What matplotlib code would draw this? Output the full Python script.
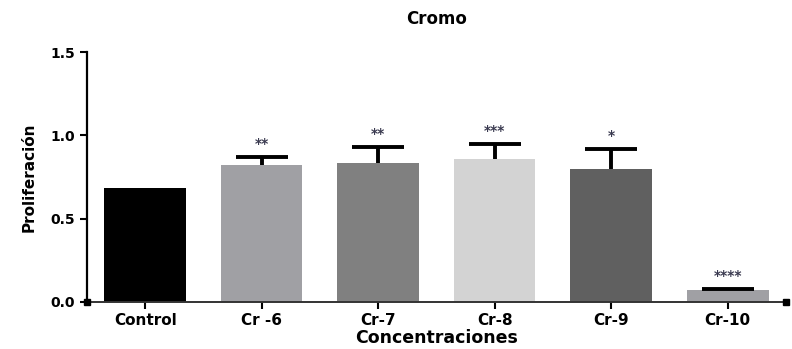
import matplotlib.pyplot as plt
import numpy as np

grupos = ['Control', 'Cr -6', 'Cr-7', 'Cr-8', 'Cr-9', 'Cr-10']
proliferacion = [0.686, 0.824, 0.832, 0.856, 0.800, 0.074]
error = [0.0, 0.046, 0.098, 0.094, 0.120, 0.002]
significancia = ['', '**', '**', '***', '*', '****']
colores = ['#000000', '#a0a0a4', '#808080', '#d3d3d3', '#606060', '#a0a0a4']

fig = plt.figure(figsize=(7.92, 3.49), dpi=100)
ax = fig.add_axes([0.1098, 0.1347, 0.8826, 0.716])

x = np.arange(len(grupos))
ax.bar(x, proliferacion, 0.70, color=colores, zorder=2)
_, caps, _ = ax.errorbar(x[1:], proliferacion[1:], yerr=[np.zeros(5), error[1:]],
                         fmt='none', ecolor='black', elinewidth=2.8, capsize=19,
                         capthick=2.8, zorder=3)
# solo la barra de error superior
caps[0].set_visible(False)

for xi, v, e, s in zip(x, proliferacion, error, significancia):
    if s:
        ax.text(xi, v + e + 0.035, s, ha='center', va='bottom', fontsize=10,
                color='#3a3a50', fontweight='bold')

ax.set_xlim(-0.5, 5.5)
ax.set_ylim(0, 1.5)
ax.set_yticks([0.0, 0.5, 1.0, 1.5])
ax.set_yticklabels(['0.0', '0.5', '1.0', '1.5'], fontweight='bold', fontsize=10)
ax.set_xticks(x)
ax.set_xticklabels(grupos, fontweight='bold', fontsize=11)

for lado in ['top', 'right']:
    ax.spines[lado].set_visible(False)
ax.spines['left'].set_linewidth(1.6)
ax.spines['bottom'].set_linewidth(1.4)
ax.spines['bottom'].set_color('#333333')
ax.tick_params(axis='both', direction='out', length=5, width=1.5)
ax.tick_params(axis='x', pad=3)

# marcas cuadradas en los extremos del eje
ax.plot([-0.5, 5.5], [0, 0], linestyle='none', marker='s', markersize=5,
        color='black', clip_on=False, zorder=4)

ax.set_title('Cromo', fontweight='bold', fontsize=12, pad=20)
ax.set_xlabel('Concentraciones', fontweight='bold', fontsize=12.5, labelpad=1)
ax.set_ylabel('Proliferación', fontsize=11, fontweight='bold',
              family=['Liberation Sans Narrow', 'DejaVu Sans'], labelpad=10)

fig.savefig('out.png', dpi=100)
